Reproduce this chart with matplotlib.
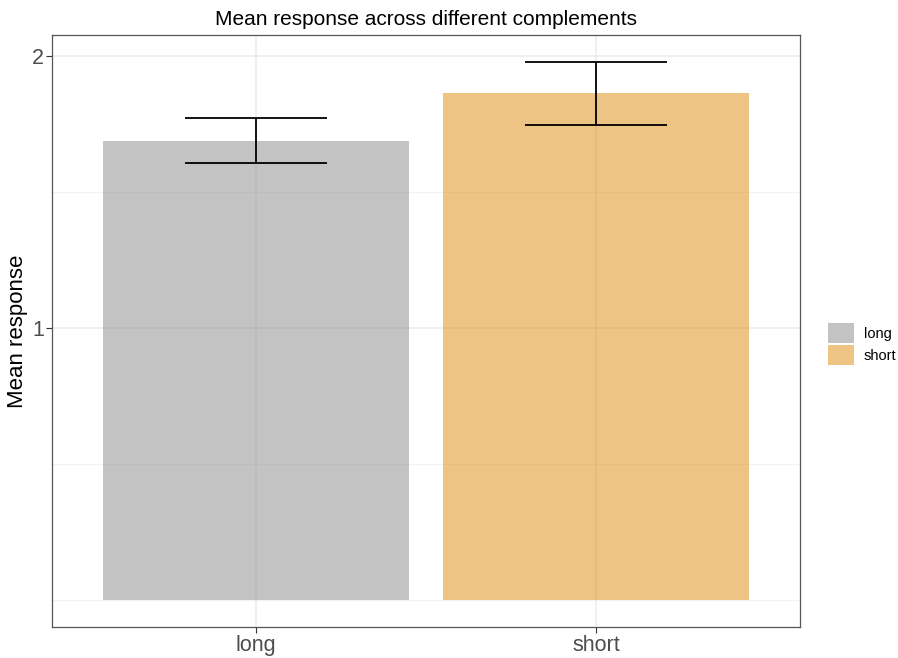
import matplotlib
matplotlib.use("Agg")
import matplotlib.pyplot as plt
from matplotlib.patches import Patch

# data
categories = ["long", "short"]
means = [1.688, 1.862]
err_low = [1.607, 1.746]
err_high = [1.772, 1.978]
bar_colors = ["#898989", "#DD8B09"]

plt.rcParams["font.family"] = ["Liberation Sans", "DejaVu Sans"]

fig = plt.figure(figsize=(8.98, 6.58), dpi=100)
ax = fig.add_axes([52 / 898, 1 - 627 / 658, (800 - 52) / 898, (627 - 35) / 658])

x = list(range(1, len(categories) + 1))
ax.set_xlim(0.4, 2.6)
ax.set_ylim(-0.099, 2.077)

# grid
for g in [1, 2]:
    ax.axhline(g, color="#EBEBEB", lw=1.1, zorder=0)
for g in [0, 0.5, 1.5]:
    ax.axhline(g, color="#F2F2F2", lw=0.8, zorder=0)
for xi in x:
    ax.axvline(xi, color="#EBEBEB", lw=1.1, zorder=0)

ax.bar(x, means, width=0.9, color=bar_colors, alpha=0.5, zorder=1)

lo = [m - l for m, l in zip(means, err_low)]
hi = [h - m for m, h in zip(means, err_high)]
ax.errorbar(x, means, yerr=[lo, hi], fmt="none", ecolor="black", elinewidth=1.3,
            capsize=51, capthick=1.3, zorder=3)

ax.set_xticks(x)
ax.set_xticklabels(categories)
ax.set_yticks([1, 2])
ax.set_yticklabels(["1", "2"])
ax.tick_params(axis="both", colors="#333333", labelcolor="#4D4D4D", labelsize=15.5, length=4)
ax.tick_params(axis="x", pad=1.5)
ax.tick_params(axis="y", pad=1.5)
for s in ax.spines.values():
    s.set_color("#555555")
    s.set_linewidth(0.9)

ax.set_ylabel("Mean response", fontsize=16, labelpad=3)
ax.set_title("Mean response across different complements", fontsize=15, pad=7)

handles = [Patch(facecolor=c, alpha=0.5, edgecolor="none") for c in bar_colors]
fig.legend(handles, categories, loc="center left", bbox_to_anchor=(815 / 898, 1 - 344 / 658),
           frameon=False, fontsize=10.5, handlelength=1.75, handleheight=1.75,
           handletextpad=0.7, labelspacing=0.15)

fig.savefig("out.png", dpi=100)
